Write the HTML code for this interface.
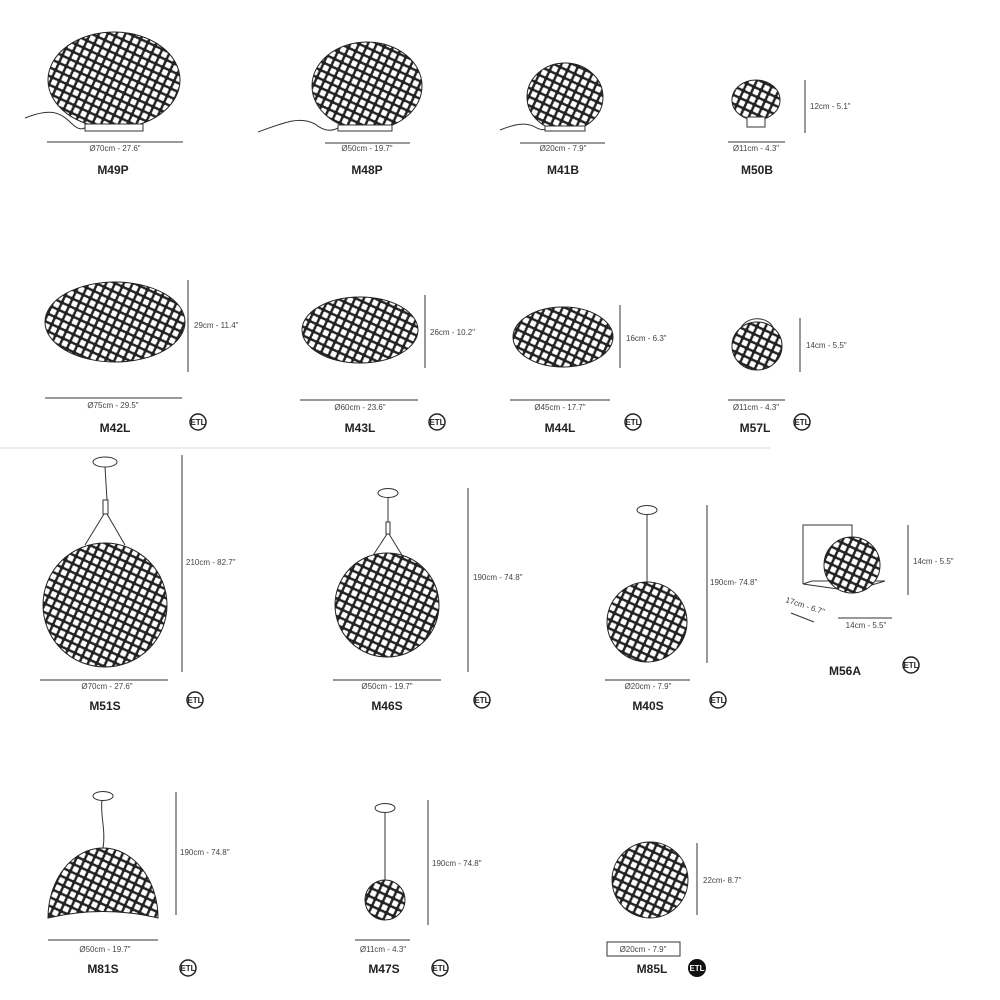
<!DOCTYPE html>
<html><head><meta charset="utf-8"><style>
html,body{margin:0;padding:0;background:#fff;width:1000px;height:1000px;overflow:hidden}
svg{display:block}
.t{font-family:"Liberation Sans",sans-serif;font-size:8px;fill:#444}
.l{font-family:"Liberation Sans",sans-serif;font-size:12px;font-weight:bold;fill:#222;text-anchor:middle}
.d{stroke:#333;stroke-width:1}
.o{fill:none;stroke:#333;stroke-width:1}
</style></head><body>
<svg width="1000" height="1000" viewBox="0 0 1000 1000" xmlns="http://www.w3.org/2000/svg">
<defs>
<pattern id="p" width="8" height="8" patternUnits="userSpaceOnUse" patternTransform="rotate(25)">
<rect width="8" height="8" fill="#222"/>
<circle cx="2.8" cy="2.8" r="1.7" fill="#fff"/><circle cx="5.2" cy="2.8" r="1.7" fill="#fff"/>
<circle cx="2.8" cy="5.2" r="1.7" fill="#fff"/><circle cx="5.2" cy="5.2" r="1.7" fill="#fff"/>
</pattern>
<g id="etl"><ellipse cx="0" cy="0" rx="8" ry="8" fill="none" stroke="#222" stroke-width="1.5"/><text x="0" y="3" font-family="Liberation Sans" font-size="8" font-weight="bold" text-anchor="middle" fill="#222">ETL</text></g>
<g id="etlb"><circle cx="0" cy="0" r="9" fill="#111"/><text x="0" y="3" font-family="Liberation Sans" font-size="8" font-weight="bold" text-anchor="middle" fill="#fff">ETL</text></g>
</defs>

<!-- Row 1 -->
<path class="o" d="M25,118 C50,108 60,112 70,122 C78,130 82,130 86,127"/>
<ellipse cx="114" cy="80" rx="66" ry="48" fill="url(#p)" stroke="#222"/>
<rect x="85" y="124" width="58" height="7" fill="#fff" stroke="#333"/>
<line class="d" x1="47" y1="142" x2="183" y2="142"/>
<text class="t" x="115" y="151" text-anchor="middle">Ø70cm - 27.6"</text>
<text class="l" x="113" y="174">M49P</text>

<path class="o" d="M258,132 C285,122 300,116 315,124 C325,132 332,131 338,128"/>
<ellipse cx="367" cy="86" rx="55" ry="44" fill="url(#p)" stroke="#222"/>
<rect x="338" y="125" width="54" height="6" fill="#fff" stroke="#333"/>
<line class="d" x1="325" y1="143" x2="410" y2="143"/>
<text class="t" x="367" y="151" text-anchor="middle">Ø50cm - 19.7"</text>
<text class="l" x="367" y="174">M48P</text>

<path class="o" d="M500,130 C515,124 525,122 535,127 C540,130 543,130 547,129"/>
<ellipse cx="565" cy="97" rx="38" ry="34" fill="url(#p)" stroke="#222"/>
<rect x="545" y="126" width="40" height="5" fill="#fff" stroke="#333"/>
<line class="d" x1="520" y1="143" x2="605" y2="143"/>
<text class="t" x="563" y="151" text-anchor="middle">Ø20cm - 7.9"</text>
<text class="l" x="563" y="174">M41B</text>

<ellipse cx="756" cy="100" rx="24" ry="20" fill="url(#p)" stroke="#222"/>
<rect x="747" y="117" width="18" height="10" fill="#fff" stroke="#333"/>
<line class="d" x1="728" y1="142" x2="785" y2="142"/>
<text class="t" x="756" y="151" text-anchor="middle">Ø11cm - 4.3"</text>
<line class="d" x1="805" y1="80" x2="805" y2="133"/>
<text class="t" x="810" y="109">12cm - 5.1"</text>
<text class="l" x="757" y="174">M50B</text>

<!-- Row 2 -->
<ellipse cx="115" cy="322" rx="70" ry="40" fill="url(#p)" stroke="#222"/>
<line class="d" x1="188" y1="280" x2="188" y2="372"/>
<text class="t" x="194" y="328">29cm - 11.4"</text>
<line class="d" x1="45" y1="398" x2="182" y2="398"/>
<text class="t" x="113" y="408" text-anchor="middle">Ø75cm - 29.5"</text>
<text class="l" x="115" y="432">M42L</text>
<use href="#etl" x="198" y="422"/>

<ellipse cx="360" cy="330" rx="58" ry="33" fill="url(#p)" stroke="#222"/>
<line class="d" x1="425" y1="295" x2="425" y2="368"/>
<text class="t" x="430" y="335">26cm - 10.2"</text>
<line class="d" x1="300" y1="400" x2="418" y2="400"/>
<text class="t" x="360" y="410" text-anchor="middle">Ø60cm - 23.6"</text>
<text class="l" x="360" y="432">M43L</text>
<use href="#etl" x="437" y="422"/>

<ellipse cx="563" cy="337" rx="50" ry="30" fill="url(#p)" stroke="#222"/>
<line class="d" x1="620" y1="305" x2="620" y2="368"/>
<text class="t" x="626" y="341">16cm - 6.3"</text>
<line class="d" x1="510" y1="400" x2="610" y2="400"/>
<text class="t" x="560" y="410" text-anchor="middle">Ø45cm - 17.7"</text>
<text class="l" x="560" y="432">M44L</text>
<use href="#etl" x="633" y="422"/>

<path class="o" d="M740,330 C745,315 770,315 774,330"/>
<ellipse cx="757" cy="346" rx="25" ry="24" fill="url(#p)" stroke="#222"/>
<line class="d" x1="800" y1="318" x2="800" y2="372"/>
<text class="t" x="806" y="348">14cm - 5.5"</text>
<line class="d" x1="728" y1="400" x2="785" y2="400"/>
<text class="t" x="756" y="410" text-anchor="middle">Ø11cm - 4.3"</text>
<text class="l" x="755" y="432">M57L</text>
<use href="#etl" x="802" y="422"/>

<line x1="0" y1="448" x2="770" y2="448" stroke="#e6e6e6" stroke-width="1.5"/>

<!-- Row 3 -->
<ellipse cx="105" cy="462" rx="12" ry="5" fill="#fff" stroke="#333"/>
<path class="o" d="M105,467 L107,500"/>
<rect x="103" y="500" width="5" height="14" fill="#fff" stroke="#333"/>
<path class="o" d="M104,514 L85,545 M107,514 L125,545"/>
<circle cx="105" cy="605" r="62" fill="url(#p)" stroke="#222"/>
<line class="d" x1="182" y1="455" x2="182" y2="672"/>
<text class="t" x="186" y="565">210cm - 82.7"</text>
<line class="d" x1="40" y1="680" x2="168" y2="680"/>
<text class="t" x="107" y="689" text-anchor="middle">Ø70cm - 27.6"</text>
<text class="l" x="105" y="710">M51S</text>
<use href="#etl" x="195" y="700"/>

<ellipse cx="388" cy="493" rx="10" ry="4.5" fill="#fff" stroke="#333"/>
<path class="o" d="M388,497 L388,522"/>
<rect x="386" y="522" width="4" height="12" fill="#fff" stroke="#333"/>
<path class="o" d="M387,534 L370,560 M389,534 L405,560"/>
<circle cx="387" cy="605" r="52" fill="url(#p)" stroke="#222"/>
<line class="d" x1="468" y1="488" x2="468" y2="672"/>
<text class="t" x="473" y="580">190cm - 74.8"</text>
<line class="d" x1="333" y1="680" x2="441" y2="680"/>
<text class="t" x="387" y="689" text-anchor="middle">Ø50cm - 19.7"</text>
<text class="l" x="387" y="710">M46S</text>
<use href="#etl" x="482" y="700"/>

<ellipse cx="647" cy="510" rx="10" ry="4.5" fill="#fff" stroke="#333"/>
<line class="o" x1="647" y1="514" x2="647" y2="582"/>
<circle cx="647" cy="622" r="40" fill="url(#p)" stroke="#222"/>
<line class="d" x1="707" y1="505" x2="707" y2="663"/>
<text class="t" x="710" y="585">190cm- 74.8"</text>
<line class="d" x1="605" y1="680" x2="690" y2="680"/>
<text class="t" x="648" y="689" text-anchor="middle">Ø20cm - 7.9"</text>
<text class="l" x="648" y="710">M40S</text>
<use href="#etl" x="718" y="700"/>

<path class="o" d="M803,584 L803,525 L852,525 L852,540 M803,584 L812,581 L885,581 L852,591 L803,584"/>
<circle cx="852" cy="565" r="28" fill="url(#p)" stroke="#222"/>
<line class="d" x1="908" y1="525" x2="908" y2="595"/>
<text class="t" x="913" y="564">14cm - 5.5"</text>
<text class="t" x="785" y="602" transform="rotate(18 785 602)">17cm - 6.7"</text>
<line class="d" x1="791" y1="613" x2="814" y2="622"/>
<line class="d" x1="838" y1="618" x2="892" y2="618"/>
<text class="t" x="866" y="628" text-anchor="middle">14cm - 5.5"</text>
<text class="l" x="845" y="675">M56A</text>
<use href="#etl" x="911" y="665"/>

<!-- Row 4 -->
<ellipse cx="103" cy="796" rx="10" ry="4.5" fill="#fff" stroke="#333"/>
<path class="o" d="M102,800 C100,815 106,830 103,848"/>
<path d="M48,918 A55,70 0 0 1 158,918 Q103,905 48,918 Z" fill="url(#p)" stroke="#222"/>
<line class="d" x1="176" y1="792" x2="176" y2="915"/>
<text class="t" x="180" y="855">190cm - 74.8"</text>
<line class="d" x1="48" y1="940" x2="158" y2="940"/>
<text class="t" x="105" y="952" text-anchor="middle">Ø50cm - 19.7"</text>
<text class="l" x="103" y="973">M81S</text>
<use href="#etl" x="188" y="968"/>

<ellipse cx="385" cy="808" rx="10" ry="4.5" fill="#fff" stroke="#333"/>
<line class="o" x1="385" y1="812" x2="385" y2="880"/>
<circle cx="385" cy="900" r="20" fill="url(#p)" stroke="#222"/>
<line class="d" x1="428" y1="800" x2="428" y2="925"/>
<text class="t" x="432" y="866">190cm - 74.8"</text>
<line class="d" x1="355" y1="940" x2="410" y2="940"/>
<text class="t" x="383" y="952" text-anchor="middle">Ø11cm - 4.3"</text>
<text class="l" x="384" y="973">M47S</text>
<use href="#etl" x="440" y="968"/>

<circle cx="650" cy="880" r="38" fill="url(#p)" stroke="#222"/>
<line class="d" x1="697" y1="843" x2="697" y2="915"/>
<text class="t" x="703" y="883">22cm- 8.7"</text>
<rect x="607" y="942" width="73" height="14" fill="none" stroke="#333"/>
<text class="t" x="643" y="952" text-anchor="middle">Ø20cm - 7.9"</text>
<text class="l" x="652" y="973">M85L</text>
<use href="#etlb" x="697" y="968"/>
</svg>
</body></html>
